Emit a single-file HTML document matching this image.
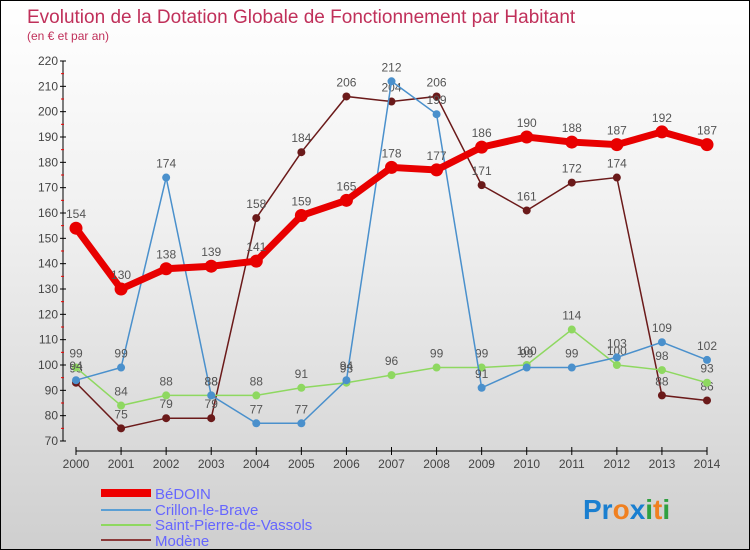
<!DOCTYPE html>
<html><head><meta charset="utf-8"><style>
body{margin:0}
#c{width:748px;height:548px;border:1px solid #000;background:linear-gradient(#fff 0%,#f0f0f0 40%,#cfcfcf 100%);position:relative;overflow:hidden;font-family:"Liberation Sans",sans-serif}
</style></head><body>
<div id="c">
<svg id="s" width="748" height="548">
<text x="26" y="22" font-size="19" fill="#c0305a">Evolution de la Dotation Globale de Fonctionnement par Habitant</text>
<text x="26" y="39" font-size="12" fill="#c0305a">(en € et par an)</text>
<g id="axes"></g><g id="series"></g>
<g font-size="15" fill="#6666ff">
<rect x="100" y="488" width="50" height="8" fill="#e00"/>
<text x="154" y="498">BéDOIN</text>
<rect x="100" y="508" width="50" height="2" fill="#5b9fd4"/>
<text x="154" y="514">Crillon-le-Brave</text>
<rect x="100" y="523" width="50" height="2" fill="#8ed860"/>
<text x="154" y="529">Saint-Pierre-de-Vassols</text>
<rect x="100" y="538" width="50" height="2" fill="#8b3a3a"/>
<text x="154" y="545">Modène</text>
</g>
<text x="582" y="518" font-size="28" font-weight="bold"><tspan fill="#1a7fd0">Pr</tspan><tspan fill="#f08020">o</tspan><tspan fill="#1a7fd0">x</tspan><tspan fill="#30a040">i</tspan><tspan fill="#f08020">t</tspan><tspan fill="#30a040">i</tspan></text>
</svg></div>
<script>
const years=[2000,2001,2002,2003,2004,2005,2006,2007,2008,2009,2010,2011,2012,2013,2014];
const bedoin=[154,130,138,139,141,159,165,178,177,186,190,188,187,192,187];
const crillon=[94,99,174,88,77,77,94,212,199,91,99,99,103,109,102];
const stpierre=[99,84,88,88,88,91,93,96,99,99,100,114,100,98,93];
const modene=[93,75,79,79,158,184,206,204,206,171,161,172,174,88,86];
const yTicks=[70,80,90,100,110,120,130,140,150,160,170,180,190,200,210,220];
const NS="http://www.w3.org/2000/svg";
function X(i){return 75+i*(631/(years.length-1));}
function Y(v){return 440-(v-70)*(380/150);}
function mk(t,a,p){const e=document.createElementNS(NS,t);for(const k in a)e.setAttribute(k,a[k]);p.appendChild(e);return e;}
const ax=document.getElementById('axes'),sg=document.getElementById('series');
let l=mk('line',{x1:62,y1:Y(220),x2:62,y2:Y(70),stroke:'#000'},ax);


l=mk('line',{x1:X(0),y1:450,x2:X(14),y2:450,stroke:'#000'},ax);


yTicks.forEach(v=>{mk('line',{x1:59,y1:Y(v),x2:65,y2:Y(v),stroke:'#000'},ax);
 if(v<220)mk('line',{x1:60,y1:Y(v+5),x2:63,y2:Y(v+5),stroke:'#e00'},ax);
 const t=mk('text',{x:57,y:Y(v)+4,'text-anchor':'end','font-size':12,fill:'#444'},ax);t.textContent=v;
 
 });
years.forEach((y,i)=>{mk('line',{x1:X(i),y1:446,x2:X(i),y2:454,stroke:'#000'},ax);
 const t=mk('text',{x:X(i),y:467,'text-anchor':'middle','font-size':12,fill:'#444'},ax);t.textContent=y;
 
 });
function series(d,col,w,r,name){const g=mk('g',{},sg);
 
 
 mk('polyline',{points:d.map((v,i)=>X(i)+','+Y(v)).join(' '),fill:'none',stroke:col,'stroke-width':w},g);
 d.forEach((v,i)=>{const c=mk('circle',{cx:X(i),cy:Y(v),r:r,fill:col},g);
 
 
 const t=mk('text',{x:X(i),y:Y(v)-10,'text-anchor':'middle','font-size':12,fill:'#555'},g);t.textContent=v;});}
series(modene,'#6b1a1a',1.5,4,'modene');
series(stpierre,'#8ed860',1.5,4,'saint-pierre');
series(crillon,'#4a90cc',1.5,4,'crillon');
series(bedoin,'#e80000',7,6.5,'bedoin');
</script>
</body></html>
